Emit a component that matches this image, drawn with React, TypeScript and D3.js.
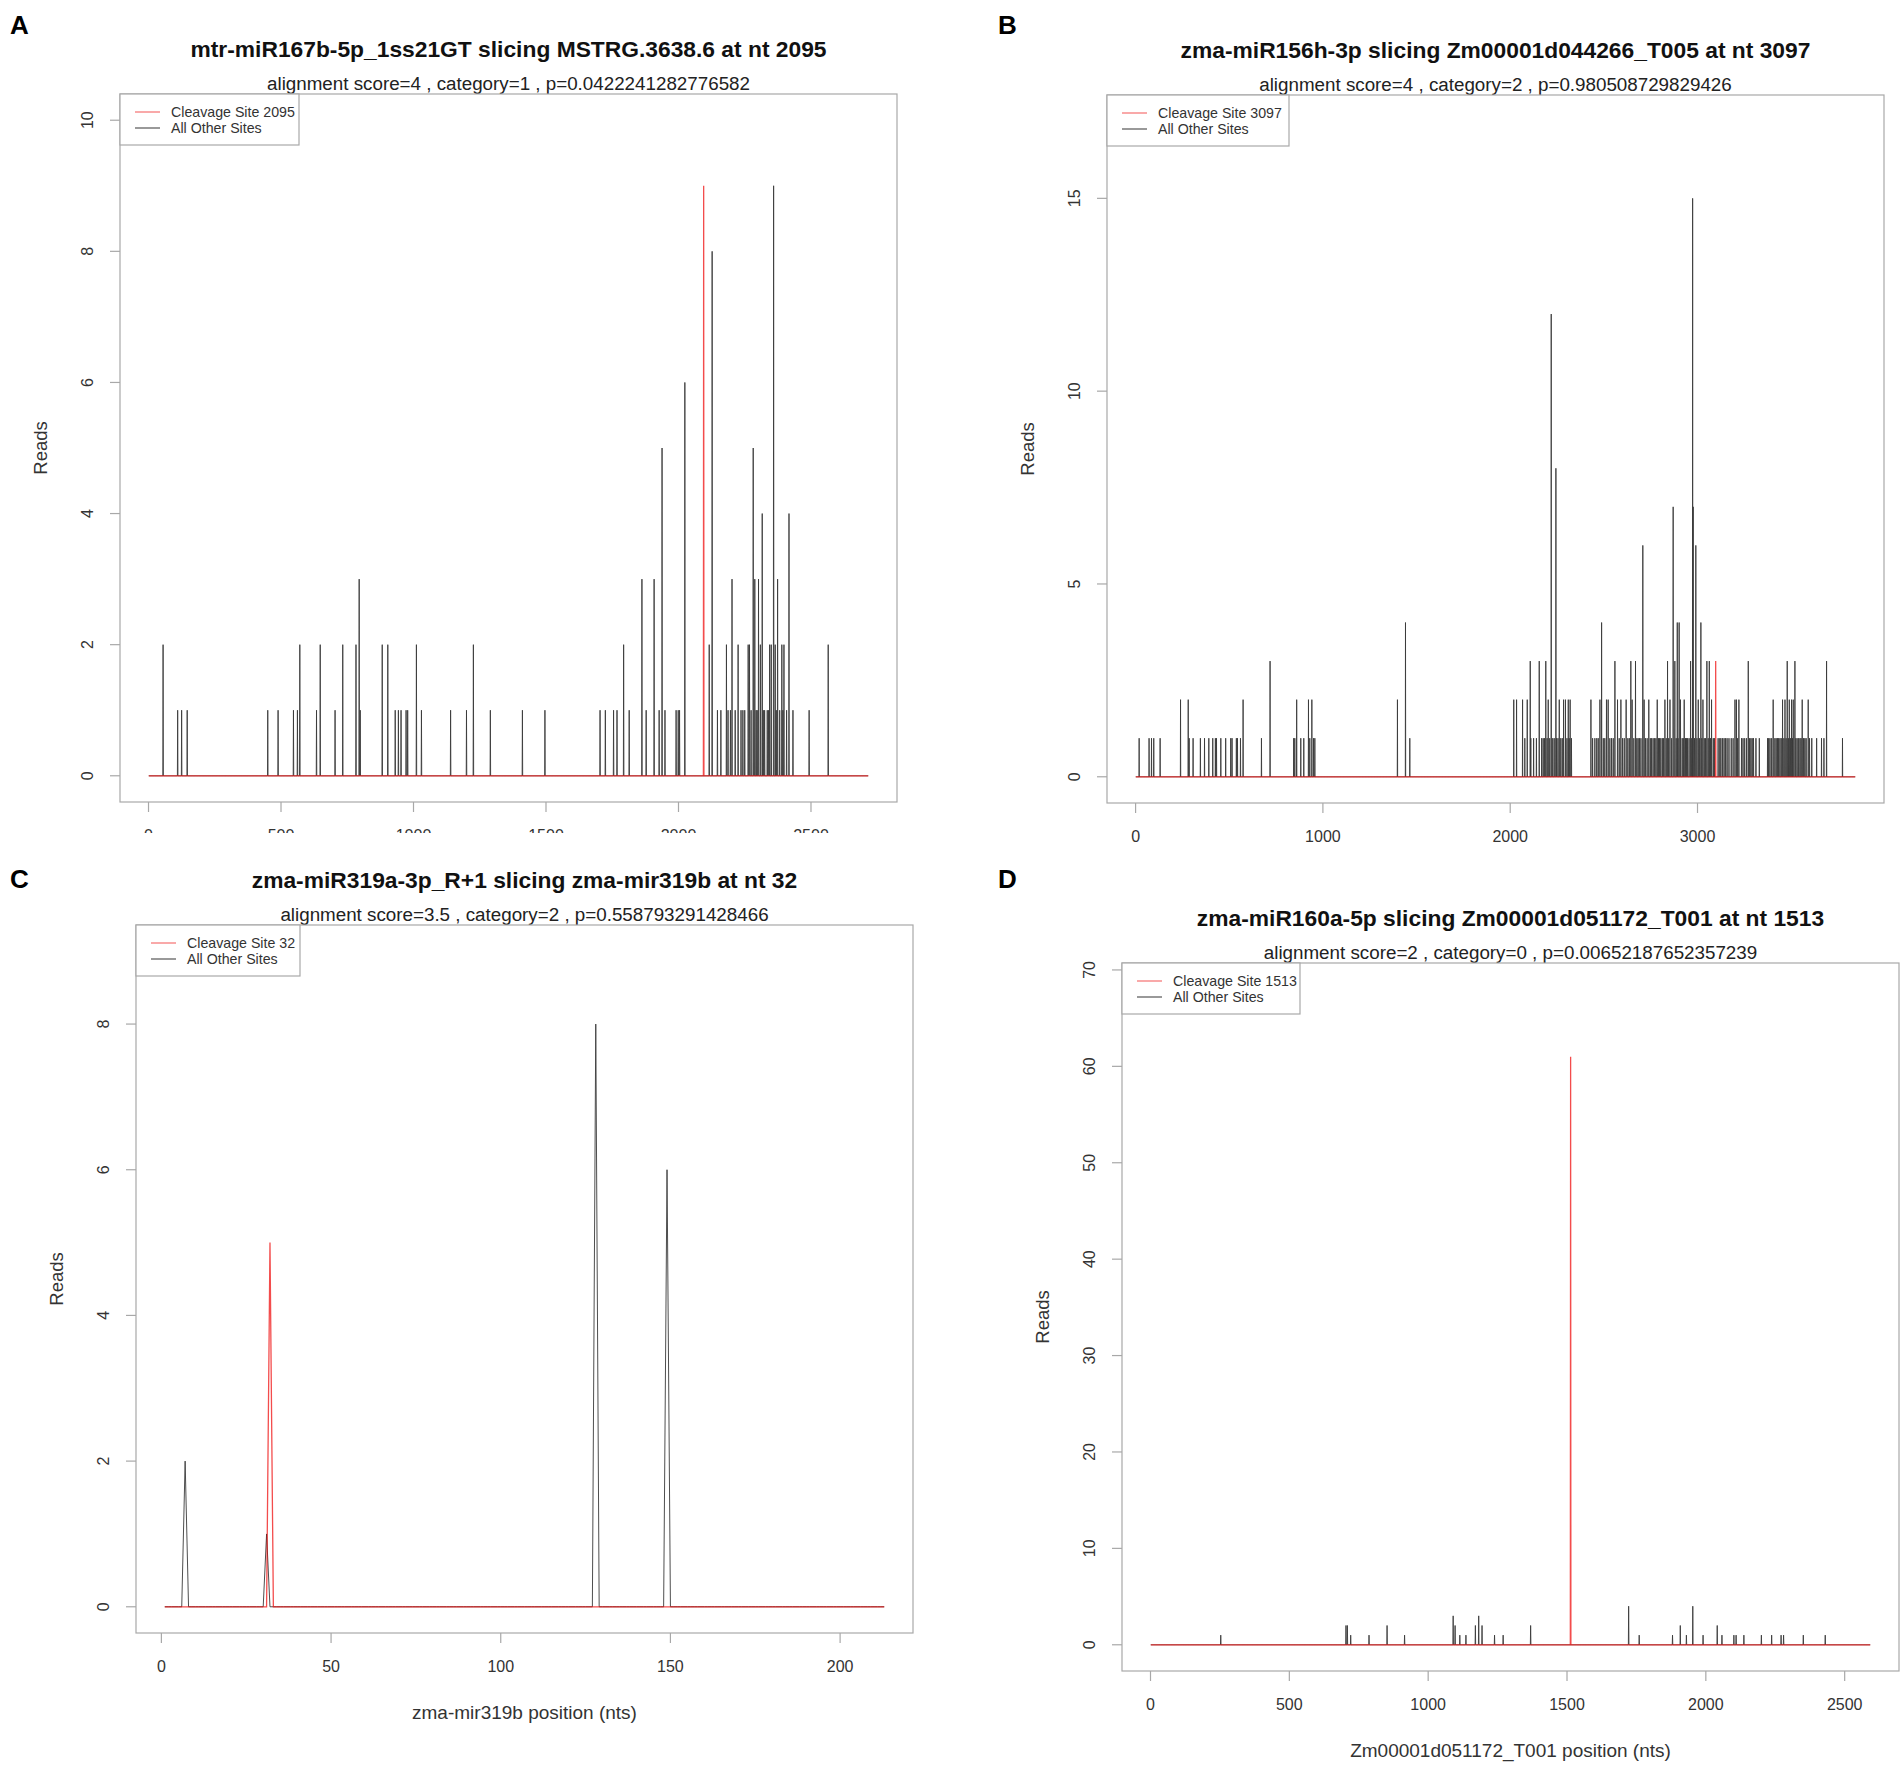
import React from 'react'
import * as d3 from 'd3'

const WIDTH = 1904
const HEIGHT = 1767
const BOX_W = 777
const BOX_H = 708
const FONT = "'Liberation Sans', Arial, Helvetica, sans-serif"

// ---- Panel A ----
const aTitle = 'mtr-miR167b-5p_1ss21GT slicing MSTRG.3638.6 at nt 2095'
const aSubtitle = 'alignment score=4 , category=1 , p=0.0422241282776582'
const aLength = 2716
const aSite = 2095
const aSiteReads = 9
const aYMax = 10
const aXTicks = [0, 500, 1000, 1500, 2000, 2500]
const aYTicks = [0, 2, 4, 6, 8, 10]
// [position, reads]
const aOtherSites: [number, number][] = [
  [55, 2], [110, 1], [125, 1], [146, 1], [450, 1], [489, 1], [547, 1], [562, 1], [571, 2],
  [634, 1], [648, 2], [704, 1], [733, 2], [783, 2], [795, 3], [799, 1], [882, 2], [903, 2],
  [931, 1], [943, 1], [953, 1], [972, 1], [978, 1], [1011, 2], [1030, 1], [1140, 1],
  [1200, 1], [1226, 2], [1290, 1], [1411, 1], [1496, 1], [1704, 1], [1724, 1], [1755, 1],
  [1768, 1], [1793, 2], [1814, 1], [1862, 3], [1878, 1], [1908, 3], [1927, 1], [1938, 5],
  [1949, 1], [1991, 1], [1999, 1], [2004, 1], [2024, 6], [2116, 2], [2127, 8], [2147, 1],
  [2160, 1], [2181, 2], [2187, 1], [2196, 1], [2202, 3], [2214, 1], [2225, 2], [2236, 1],
  [2243, 1], [2250, 1], [2263, 2], [2268, 2], [2274, 1], [2282, 5], [2288, 3], [2293, 1],
  [2297, 1], [2302, 3], [2309, 2], [2316, 4], [2320, 1], [2325, 1], [2335, 1], [2340, 1],
  [2344, 2], [2350, 2], [2359, 9], [2365, 2], [2369, 1], [2374, 3], [2382, 1], [2390, 2],
  [2394, 1], [2398, 2], [2408, 1], [2417, 4], [2432, 1], [2493, 1], [2565, 2],
]

// ---- Panel B ----
const bTitle = 'zma-miR156h-3p slicing Zm00001d044266_T005 at nt 3097'
const bSubtitle = 'alignment score=4 , category=2 , p=0.980508729829426'
const bLength = 3842
const bSite = 3097
const bSiteReads = 3
const bYMax = 17
const bXTicks = [0, 1000, 2000, 3000]
const bYTicks = [0, 5, 10, 15]
const bOtherSites: [number, number][] = [
  [19, 1], [72, 1], [85, 1], [97, 1], [131, 1], [240, 2], [281, 2], [286, 1], [307, 1],
  [346, 1], [368, 1], [391, 1], [412, 1], [426, 1], [432, 1], [455, 1], [481, 1], [508, 1],
  [515, 1], [538, 1], [544, 1], [560, 1], [574, 2], [672, 1], [718, 3], [844, 1], [850, 1],
  [860, 2], [882, 1], [898, 1], [923, 2], [930, 1], [941, 2], [950, 1], [957, 1], [1398, 2],
  [1441, 4], [1464, 1],
  [2019, 2], [2034, 2], [2066, 2], [2078, 1], [2091, 2], [2107, 3], [2110, 1], [2125, 1],
  [2140, 1], [2155, 3], [2168, 1], [2176, 1], [2183, 1], [2190, 3], [2197, 1], [2203, 2],
  [2211, 1], [2219, 12], [2227, 1], [2235, 1], [2244, 8], [2247, 1], [2255, 1], [2262, 2],
  [2270, 1], [2278, 1], [2285, 2], [2295, 2], [2303, 1], [2310, 2], [2315, 1], [2320, 2],
  [2327, 1], [2431, 2], [2440, 1], [2452, 1], [2462, 1], [2470, 1], [2479, 2], [2488, 4],
  [2497, 1], [2505, 1], [2514, 2], [2523, 2], [2532, 1], [2541, 1], [2550, 1], [2559, 3],
  [2573, 2], [2582, 1], [2591, 2], [2600, 1], [2609, 1], [2619, 2], [2628, 1], [2636, 1],
  [2644, 3], [2651, 2], [2660, 1], [2669, 3], [2676, 1], [2683, 1], [2690, 1], [2698, 1],
  [2708, 6], [2715, 2], [2722, 1], [2731, 1], [2740, 2], [2748, 1], [2755, 1], [2763, 1],
  [2771, 1], [2778, 1], [2785, 2], [2792, 1], [2797, 1], [2804, 1], [2812, 1], [2818, 1],
  [2826, 2], [2833, 1], [2840, 3], [2846, 1], [2853, 2], [2862, 1], [2870, 7], [2879, 3],
  [2886, 1], [2892, 4], [2896, 1], [2902, 4], [2909, 2], [2918, 1], [2924, 1], [2929, 2],
  [2936, 1], [2941, 1], [2947, 1], [2955, 1], [2963, 3], [2969, 1], [2974, 15], [2977, 7],
  [2984, 1], [2991, 6], [2997, 1], [3004, 2], [3010, 1], [3018, 4], [3023, 1], [3029, 2],
  [3036, 1], [3043, 1], [3050, 3], [3057, 1], [3063, 3], [3069, 1], [3075, 2], [3084, 1],
  [3090, 1], [3110, 1], [3119, 1], [3125, 1], [3134, 1], [3142, 1], [3150, 1], [3158, 1],
  [3168, 1], [3180, 1], [3190, 1], [3200, 2], [3208, 2], [3214, 1], [3221, 2], [3235, 1],
  [3243, 1], [3252, 1], [3262, 1], [3271, 3], [3278, 1], [3285, 1], [3292, 1], [3299, 1],
  [3312, 1], [3330, 1], [3374, 1], [3380, 1], [3387, 1], [3396, 1], [3404, 2], [3413, 1],
  [3420, 1], [3427, 1], [3433, 1], [3440, 1], [3447, 1], [3454, 2], [3461, 1], [3467, 2],
  [3473, 1], [3479, 3], [3485, 1], [3490, 2], [3496, 1], [3502, 2], [3507, 1], [3511, 2],
  [3520, 3], [3525, 1], [3532, 1], [3540, 1], [3547, 1], [3553, 1], [3559, 2], [3566, 1],
  [3573, 1], [3580, 1], [3591, 2], [3598, 1], [3610, 1], [3636, 1], [3662, 1], [3675, 1],
  [3689, 3], [3774, 1],
]

// ---- Panel C ----
const cTitle = 'zma-miR319a-3p_R+1 slicing zma-mir319b at nt 32'
const cSubtitle = 'alignment score=3.5 , category=2 , p=0.558793291428466'
const cXLabel = 'zma-mir319b position (nts)'
const cLength = 213
const cSite = 32
const cSiteReads = 5
const cYMax = 9
const cXTicks = [0, 50, 100, 150, 200]
const cYTicks = [0, 2, 4, 6, 8]
const cOtherSites: [number, number][] = [[7, 2], [31, 1], [128, 8], [149, 6]]

// ---- Panel D ----
const dTitle = 'zma-miR160a-5p slicing Zm00001d051172_T001 at nt 1513'
const dSubtitle = 'alignment score=2 , category=0 , p=0.00652187652357239'
const dXLabel = 'Zm00001d051172_T001 position (nts)'
const dLength = 2592
const dSite = 1513
const dSiteReads = 61
const dYMax = 68
const dXTicks = [0, 500, 1000, 1500, 2000, 2500]
const dYTicks = [0, 10, 20, 30, 40, 50, 60, 70]
const dOtherSites: [number, number][] = [
  [253, 1], [704, 2], [709, 2], [721, 1], [787, 1], [852, 2], [915, 1], [1090, 3], [1097, 2],
  [1114, 1], [1136, 1], [1170, 2], [1182, 3], [1194, 2], [1239, 1], [1270, 1], [1369, 2],
  [1722, 4], [1760, 1], [1880, 1], [1908, 2], [1930, 1], [1953, 4], [1990, 1], [2041, 2],
  [2058, 1], [2101, 1], [2109, 1], [2137, 1], [2200, 1], [2237, 1], [2271, 1], [2280, 1],
  [2351, 1], [2430, 1],
]

interface PanelData {
  letter: string
  title: string
  subtitle: string
  xLabel?: string
  length: number
  site: number
  siteReads: number
  yMax: number
  xTicks: number[]
  yTicks: number[]
  others: [number, number][]
}

const panels: PanelData[] = [
  { letter: 'A', title: aTitle, subtitle: aSubtitle, length: aLength, site: aSite, siteReads: aSiteReads, yMax: aYMax, xTicks: aXTicks, yTicks: aYTicks, others: aOtherSites },
  { letter: 'B', title: bTitle, subtitle: bSubtitle, length: bLength, site: bSite, siteReads: bSiteReads, yMax: bYMax, xTicks: bXTicks, yTicks: bYTicks, others: bOtherSites },
  { letter: 'C', title: cTitle, subtitle: cSubtitle, xLabel: cXLabel, length: cLength, site: cSite, siteReads: cSiteReads, yMax: cYMax, xTicks: cXTicks, yTicks: cYTicks, others: cOtherSites },
  { letter: 'D', title: dTitle, subtitle: dSubtitle, xLabel: dXLabel, length: dLength, site: dSite, siteReads: dSiteReads, yMax: dYMax, xTicks: dXTicks, yTicks: dYTicks, others: dOtherSites },
]

// where each panel sits on the page
const layouts = [
  { left: 120, top: 94, letterX: 10, letterY: 34, legendW: 179, clipBottom: 833 },
  { left: 1107, top: 95, letterX: 998, letterY: 34, legendW: 182, clipBottom: 860 },
  { left: 136, top: 925, letterX: 10, letterY: 888, legendW: 164, clipBottom: HEIGHT },
  { left: 1122, top: 963, letterX: 998, letterY: 888, legendW: 178, clipBottom: HEIGHT },
]

function Panel({ d, l, idx }: { d: PanelData; l: (typeof layouts)[number]; idx: number }) {
  const bottom = l.top + BOX_H
  const cx = l.left + BOX_W / 2

  // R-style 4% padding around the data range [1, length] and [0, yMax]
  const pad = 0.04 * (d.length - 1)
  const x = d3.scaleLinear().domain([1 - pad, d.length + pad]).range([l.left, l.left + BOX_W])
  const y = d3.scaleLinear().domain([-0.04 * d.yMax, 1.04 * d.yMax]).range([bottom, l.top])

  const other = new Array(d.length).fill(0)
  d.others.forEach(([pos, r]) => { other[pos - 1] = r })
  const siteSeries = new Array(d.length).fill(0)
  siteSeries[d.site - 1] = d.siteReads

  const line = d3.line<number>().x((_, i) => x(i + 1)).y((v) => y(v))
  const clipId = `clip-${idx}`

  return (
    <g fontFamily={FONT} clipPath={`url(#${clipId})`}>
      <defs>
        <clipPath id={clipId}>
          <rect x={0} y={0} width={WIDTH} height={l.clipBottom} />
        </clipPath>
      </defs>
      <text x={l.letterX} y={l.letterY} fontSize={26} fontWeight="bold" fill="#000">{d.letter}</text>
      <text x={cx} y={l.top - 37} fontSize={22.8} fontWeight="bold" textAnchor="middle" fill="#111">{d.title}</text>
      <text x={cx} y={l.top - 4} fontSize={18.8} textAnchor="middle" fill="#222">{d.subtitle}</text>

      <rect x={l.left} y={l.top} width={BOX_W} height={BOX_H} fill="none" stroke="#a8a8a8" strokeWidth={1.2} />

      <path d={line(other) ?? ''} fill="none" stroke="#3a3a3a" strokeWidth={0.9} />
      <path d={line(siteSeries) ?? ''} fill="none" stroke="#e00" strokeWidth={1.3} strokeOpacity={0.7} />

      {d.yTicks.map((v) => (
        <g key={`y${v}`}>
          <line x1={l.left - 10} x2={l.left} y1={y(v)} y2={y(v)} stroke="#a8a8a8" strokeWidth={1.2} />
          <text
            transform={`translate(${l.left - 33},${y(v)}) rotate(-90)`}
            textAnchor="middle"
            dominantBaseline="central"
            fontSize={16}
            fill="#333"
          >
            {v}
          </text>
        </g>
      ))}
      {d.xTicks.map((v) => (
        <g key={`x${v}`}>
          <line x1={x(v)} x2={x(v)} y1={bottom} y2={bottom + 10} stroke="#a8a8a8" strokeWidth={1.2} />
          <text x={x(v)} y={bottom + 39} textAnchor="middle" fontSize={16} fill="#333">{v}</text>
        </g>
      ))}

      <text
        transform={`translate(${l.left - 80},${l.top + BOX_H / 2}) rotate(-90)`}
        textAnchor="middle"
        dominantBaseline="central"
        fontSize={18.5}
        fill="#333"
      >
        Reads
      </text>
      {d.xLabel && (
        <text x={cx} y={bottom + 86} textAnchor="middle" fontSize={19} fill="#333">{d.xLabel}</text>
      )}

      {/* legend */}
      <rect x={l.left} y={l.top} width={l.legendW} height={51} fill="#fff" stroke="#a8a8a8" strokeWidth={1.2} />
      <line x1={l.left + 15} x2={l.left + 40} y1={l.top + 18} y2={l.top + 18} stroke="#e00" strokeOpacity={0.45} strokeWidth={1.5} />
      <line x1={l.left + 15} x2={l.left + 40} y1={l.top + 34} y2={l.top + 34} stroke="#555" strokeWidth={1.2} />
      <text x={l.left + 51} y={l.top + 18} dominantBaseline="central" fontSize={14.2} fill="#333">
        {`Cleavage Site ${d.site}`}
      </text>
      <text x={l.left + 51} y={l.top + 34} dominantBaseline="central" fontSize={14.2} fill="#333">
        All Other Sites
      </text>
    </g>
  )
}

export default function App() {
  return (
    <svg
      width={WIDTH}
      height={HEIGHT}
      viewBox={`0 0 ${WIDTH} ${HEIGHT}`}
      style={{ position: 'absolute', left: 0, top: 0, background: '#fff', display: 'block' }}
    >
      <rect width={WIDTH} height={HEIGHT} fill="#fff" />
      {panels.map((p, i) => (
        <Panel key={p.letter} d={p} l={layouts[i]} idx={i} />
      ))}
    </svg>
  )
}
